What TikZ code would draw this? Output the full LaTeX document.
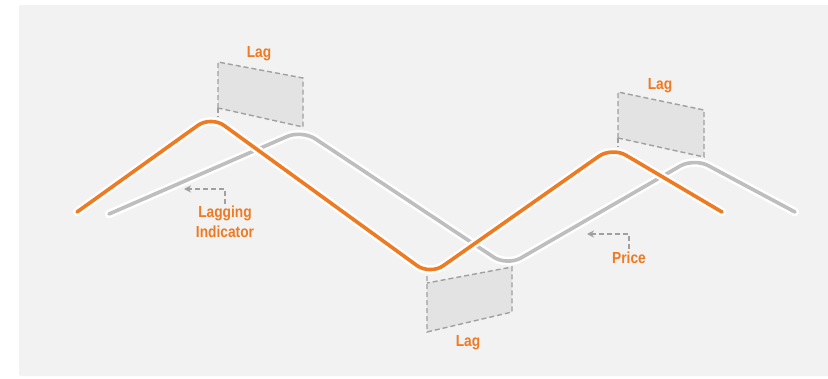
\documentclass[tikz,border=0pt]{standalone}
\usepackage{fontspec}
\setmainfont{Liberation Sans}[FakeStretch=0.86]
\usetikzlibrary{arrows.meta}
\definecolor{lagorange}{HTML}{EE7A22}
\definecolor{pricegrey}{HTML}{BEBEBE}
\definecolor{dashgrey}{HTML}{A0A0A0}
\definecolor{boxfill}{HTML}{E3E3E3}
\definecolor{panel}{HTML}{F2F2F2}
\tikzset{
  dashlink/.style={draw=dashgrey, dash pattern=on 5pt off 3pt, line width=1.4pt},
  halo/.style={draw=white, line width=8.5pt, rounded corners=16pt, line cap=round},
  pricecurve/.style={draw=pricegrey, line width=3.6pt, rounded corners=16pt, line cap=round},
  indcurve/.style={draw=lagorange, line width=3.6pt, rounded corners=16pt, line cap=round},
  lbl/.style={text=lagorange, font=\fontsize{16}{20}\selectfont\bfseries, align=center, inner sep=0pt},
  pointer/.style={draw=dashgrey, dash pattern=on 5pt off 3pt, line width=1.4pt, -{Stealth[length=7pt,width=7pt]}}
}
\begin{document}
\begin{tikzpicture}[x=1pt,y=-1pt]
\useasboundingbox (0,0) rectangle (828,378);
\fill[white] (0,0) rectangle (828,378);
\fill[panel, rounded corners=2pt] (19,5) rectangle (835,376);

% lag boxes
\coordinate (b1a) at (218,62);
\coordinate (b1b) at (303,78);
\coordinate (b1c) at (303,127);
\coordinate (b1d) at (218,108);
\coordinate (b1e) at (218,117);
\fill[boxfill] (b1a) -- (b1b) -- (b1c) -- (b1d) -- cycle;
\draw[dashlink] (b1d) -- (b1a) -- (b1b) -- (b1c) -- (b1d);
\draw[dashlink] (b1d) -- (b1e);

\coordinate (b3a) at (618,92);
\coordinate (b3b) at (704,110);
\coordinate (b3c) at (704,157);
\coordinate (b3d) at (618,138);
\coordinate (b3e) at (618,147);
\fill[boxfill] (b3a) -- (b3b) -- (b3c) -- (b3d) -- cycle;
\draw[dashlink] (b3d) -- (b3a) -- (b3b) -- (b3c) -- (b3d);
\draw[dashlink] (b3d) -- (b3e);

\coordinate (b2a) at (427,283);
\coordinate (b2b) at (512,267);
\coordinate (b2c) at (512,312);
\coordinate (b2d) at (427,332);
\coordinate (b2e) at (427,276);
\fill[boxfill] (b2a) -- (b2b) -- (b2c) -- (b2d) -- cycle;
\draw[dashlink] (b2e) -- (b2d) -- (b2c) -- (b2b) -- (b2a);

% price (grey) curve
\coordinate (p0) at (109,214);
\coordinate (p1) at (302,130);
\coordinate (p2) at (507,266);
\coordinate (p3) at (694,158);
\coordinate (p4) at (795,212);
\draw[halo] (p0) -- (p1) -- (p2) -- (p3) -- (p4);
\draw[pricecurve] (p0) -- (p1) -- (p2) -- (p3) -- (p4);

% indicator (orange) curve
\coordinate (o0) at (77,212);
\coordinate (o1) at (211,116);
\coordinate (o2) at (430,275);
\coordinate (o3) at (612,147);
\coordinate (o4) at (722,212);
\draw[halo] (o0) -- (o1) -- (o2) -- (o3) -- (o4);
\draw[indcurve] (o0) -- (o1) -- (o2) -- (o3) -- (o4);

% labels
\node[lbl] (lag1) at (259,54) {Lag};
\node[lbl] (lag3) at (660,86) {Lag};
\node[lbl] (lag2) at (468,343) {Lag};
\node[lbl] (lagind) at (225,222) {Lagging\\Indicator};
\node[lbl] (price) at (629,258) {Price};

% pointers
\coordinate (li1) at (225,189);
\coordinate (li2) at (184,189);
\draw[pointer] (lagind.north) ++(0,-2) -- (li1) -- (li2);
\coordinate (pr1) at (629,234);
\coordinate (pr2) at (587,234);
\draw[pointer] (price.north) ++(0,-3) -- (pr1) -- (pr2);
\end{tikzpicture}
\end{document}
